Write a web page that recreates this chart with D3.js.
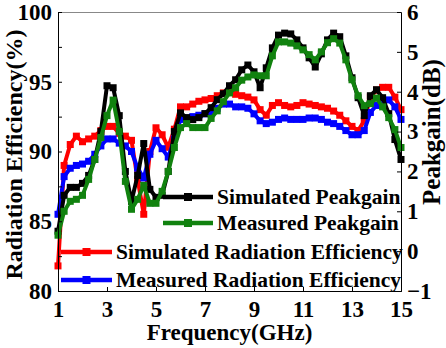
<!DOCTYPE html>
<html><head><meta charset="utf-8">
<script src="https://cdn.jsdelivr.net/npm/d3@7"></script>
<style>
body{margin:0;background:#fff}
svg{display:block}
text{font-family:"Liberation Serif","Times New Roman",serif;font-weight:bold;fill:#000}
</style>
</head><body>
<svg id="c" width="446" height="348"></svg>
<script>
const freq=[1,1.25,1.5,1.75,2,2.25,2.5,2.75,3,3.25,3.5,3.75,4,4.25,4.5,4.75,5,5.25,5.5,5.75,6,6.25,6.5,6.75,7,7.25,7.5,7.75,8,8.25,8.5,8.75,9,9.25,9.5,9.75,10,10.25,10.5,10.75,11,11.25,11.5,11.75,12,12.25,12.5,12.75,13,13.25,13.5,13.75,14,14.25,14.5,14.75,15];
const simGain=[0.5,1.4,1.6,1.6,1.7,1.9,2.3,3.0,4.15,4.1,3.4,2.0,1.25,1.9,2.7,1.55,1.35,1.4,2.0,3.0,3.47,3.35,3.3,3.35,3.45,3.6,3.8,3.95,4.15,4.3,4.55,4.67,4.5,4.1,4.6,5.1,5.42,5.47,5.45,5.3,5.1,4.85,4.62,4.95,5.3,5.47,5.38,4.9,4.35,3.85,3.4,3.9,4.05,3.85,3.45,2.8,2.3];
const measGain=[0.4,1.0,1.25,1.3,1.4,1.8,2.3,2.85,3.4,3.79,3.0,1.75,1.05,1.3,1.65,1.2,1.2,1.5,2.0,2.6,3.1,3.2,3.1,3.1,3.1,3.33,3.52,3.75,3.97,4.1,4.29,4.37,4.42,4.4,4.4,4.9,5.25,5.25,5.22,5.15,5.05,4.93,4.8,5.0,5.23,5.33,5.22,4.8,4.3,3.9,3.65,3.7,3.84,3.62,3.35,3.05,2.6];
const simEff=[81.8,89.0,90.5,91.1,90.7,90.9,91.1,91.5,91.8,91.8,91.3,91.1,90.8,88.0,85.5,90.0,91.7,91.2,90.3,91.6,93.2,93.2,93.4,93.6,93.7,93.8,94.0,94.2,94.3,94.1,94.0,93.9,93.7,93.0,92.6,93.3,93.5,93.3,93.2,93.3,93.5,93.4,93.3,93.2,93.1,92.9,92.6,92.2,91.8,91.5,92.2,93.9,94.4,94.6,94.6,93.9,93.0];
const measEff=[85.5,88.2,88.8,89.0,89.1,89.3,89.8,90.4,90.9,90.9,90.6,90.4,90.0,88.8,88.1,89.8,90.8,90.2,89.6,90.9,92.3,92.4,92.5,92.6,92.7,92.8,93.1,93.4,93.4,93.2,93.2,93.1,92.7,92.2,92.0,92.1,92.3,92.4,92.3,92.3,92.3,92.4,92.4,92.3,92.1,92.0,91.8,91.5,91.2,91.2,91.5,92.8,93.3,93.5,93.7,93.2,92.3];
const xTicks=[1,3,5,7,9,11,13,15];
const yLeftTicks=[80,82.5,85,87.5,90,92.5,95,97.5,100];
const yRightTicks=[-1,0,1,2,3,4,5,6];
const legendLabels=["Simulated Peakgain","Measured Peakgain","Simulated Radiation Efficiency","Measured Radiation Efficiency"];

const svg=d3.select("#c");
const L=58,R=401,T=12,B=291;
const x=d3.scaleLinear().domain([1,15]).range([L,R]);
const yL=d3.scaleLinear().domain([80,100]).range([B,T]);
const yR=d3.scaleLinear().domain([-1,6]).range([B,T]);

// frame
svg.append("line").attr("x1",L).attr("x2",R).attr("y1",T+0.5).attr("y2",T+0.5).attr("stroke","#888").attr("stroke-width",1);

const series=[
 {vals:simEff,y:yL,color:"#ff0000"},
 {vals:measEff,y:yL,color:"#0000ff"},
 {vals:simGain,y:yR,color:"#000000"},
 {vals:measGain,y:yR,color:"#11820f"}
];
series.forEach(s=>{
  const line=d3.line().x((d,i)=>x(freq[i])).y(d=>s.y(d));
  svg.append("path").datum(s.vals).attr("d",line).attr("fill","none")
    .attr("stroke",s.color).attr("stroke-width",4).attr("stroke-linejoin","round");
  svg.append("g").selectAll("rect").data(s.vals).join("rect")
    .attr("x",(d,i)=>x(freq[i])-3.5).attr("y",d=>s.y(d)-3.5)
    .attr("width",7).attr("height",7).attr("fill",s.color);
});

// axes
const fmtL=d=> (d%5===0? d3.format("d")(d):"");
const gl=svg.append("g").attr("transform",`translate(${L},0)`)
  .call(d3.axisLeft(yL).tickValues(yLeftTicks).tickSize(-4).tickPadding(6).tickFormat(fmtL));
const gr=svg.append("g").attr("transform",`translate(${R},0)`)
  .call(d3.axisRight(yR).tickValues(yRightTicks).tickSize(-4).tickPadding(6).tickFormat(d3.format("d")));
const gb=svg.append("g").attr("transform",`translate(0,${B})`)
  .call(d3.axisBottom(x).tickValues(xTicks).tickSize(-4).tickPadding(6).tickFormat(d3.format("d")));
[gl,gr,gb].forEach(g=>{
  g.select(".domain").attr("stroke","#000").attr("stroke-width",1);
  g.selectAll(".tick line").attr("stroke","#000");
  g.selectAll("text").attr("font-size",23).attr("font-family",'"Liberation Serif","Times New Roman",serif').attr("font-weight","bold").attr("fill","#000");
});
gb.selectAll("text").attr("dy","0.85em");

// titles
svg.append("text").attr("x",(L+R)/2).attr("y",340).attr("text-anchor","middle").attr("font-size",23).text("Frequency(GHz)");
svg.append("text").attr("transform",`translate(22,${(T+B)/2+3}) rotate(-90)`).attr("text-anchor","middle").attr("font-size",24).text("Radiation Efficiency(%)");
svg.append("text").attr("transform",`translate(440,132) rotate(-90)`).attr("text-anchor","middle").attr("font-size",25).text("Peakgain(dB)");

// legend
const leg=[
 {x1:163,x2:213,y:197,color:"#000000",tx:217},
 {x1:163,x2:213,y:223,color:"#11820f",tx:217},
 {x1:61,x2:112,y:252,color:"#ff0000",tx:116},
 {x1:61,x2:112,y:280,color:"#0000ff",tx:116}
];
leg.forEach((d,i)=>{
  svg.append("line").attr("x1",d.x1).attr("x2",d.x2).attr("y1",d.y).attr("y2",d.y).attr("stroke",d.color).attr("stroke-width",4.5);
  svg.append("rect").attr("x",(d.x1+d.x2)/2-4).attr("y",d.y-4).attr("width",8).attr("height",8).attr("fill",d.color);
  svg.append("text").attr("x",d.tx).attr("y",d.y).attr("dy","0.33em").attr("font-size",21.5).text(legendLabels[i]);
});
</script>
</body></html>
